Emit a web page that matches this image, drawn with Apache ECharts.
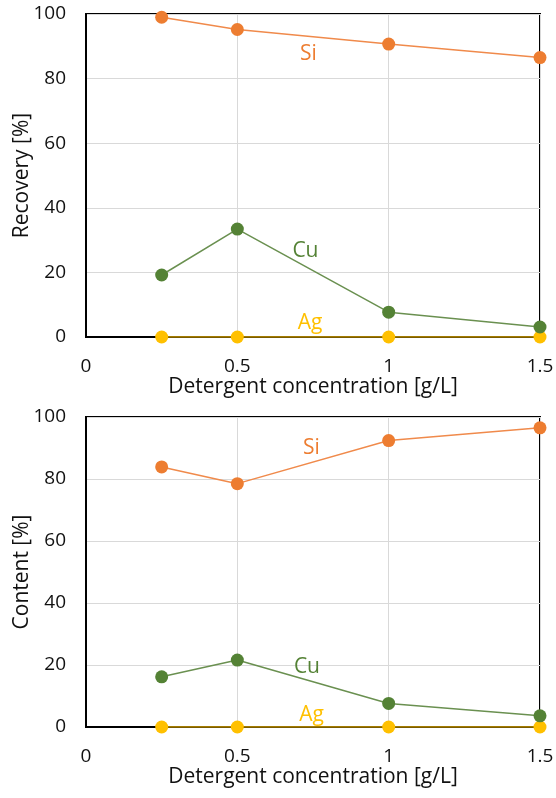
<!DOCTYPE html>
<html>
<head>
<meta charset="utf-8">
<script src="https://cdn.jsdelivr.net/npm/echarts@6/dist/echarts.min.js"></script>
<style>
  html, body { margin: 0; padding: 0; background: #fff; }
  #chart { width: 556px; height: 798px; }
</style>
</head>
<body>
<div id="chart"></div>
<script>
// detergent concentration [g/L]
const conc = [0.25, 0.5, 1, 1.5];
const xTicks = [0, 0.5, 1, 1.5];

// top panel: recovery [%]
const recSi = [99.0, 95.2, 90.7, 86.5];
const recCu = [19.2, 33.4, 7.7, 3.1];
const recAg = [0, 0, 0, 0];

// bottom panel: content [%]
const conSi = [83.9, 78.5, 92.4, 96.5];
const conCu = [16.2, 21.6, 7.6, 3.6];
const conAg = [0, 0, 0, 0];

const colors = { Si: "#ED7D31", Cu: "#548235", Ag: "#FFC000" };
const lineColors = { Si: "#F08A4B", Cu: "#6A9050", Ag: "#D9A400" };

// where the element names sit (data coords)
const recLabelPos = { Si: [0.735, 87.5], Cu: [0.725, 26.5], Ag: [0.74, 4.3] };
const conLabelPos = { Si: [0.745, 90], Cu: [0.73, 19.4], Ag: [0.745, 4.0] };

const FONT = "'Open Sans', 'Noto Sans', sans-serif";

function xAxis(gridIndex) {
    return {
        type: "value", gridIndex, min: 0, max: 1.5, interval: 0.5,
        name: "Detergent concentration [g/L]", nameLocation: "middle", nameGap: 36,
        nameTextStyle: { fontFamily: FONT, fontSize: 21, color: "#111" },
        axisLine: { show: true, onZero: false, lineStyle: { color: "#000", width: 2 } },
        axisTick: { show: false },
        axisLabel: { fontFamily: FONT, fontSize: 19, color: "#111", margin: 20,
            formatter: v => xTicks.includes(v) ? String(v) : "" },
        splitLine: { show: true, lineStyle: { color: "#d9d9d9", width: 1 } },
    };
}

function yAxis(gridIndex, name) {
    return {
        type: "value", gridIndex, min: 0, max: 100, interval: 20,
        name, nameLocation: "middle", nameGap: 53, nameMoveOverlap: false,
        nameTextStyle: { fontFamily: FONT, fontSize: 21, color: "#111" },
        axisLine: { show: true, lineStyle: { color: "#000", width: 2 } },
        axisTick: { show: false },
        axisLabel: { fontFamily: FONT, fontSize: 19, color: "#111", margin: 20 },
        splitLine: { show: true, lineStyle: { color: "#d9d9d9", width: 1 } },
    };
}

function makeSeries(idx, el, values, labelPos) {
    return {
        type: "line", xAxisIndex: idx, yAxisIndex: idx,
        data: conc.map((c, i) => [c, values[i]]),
        symbol: "circle", symbolSize: 13,
        itemStyle: { color: colors[el] },
        lineStyle: { color: lineColors[el], width: 1.5 },
        z: el === "Ag" ? 3 : 4,
        markPoint: {
            symbol: "circle", symbolSize: 0, silent: true,
            data: [{ coord: labelPos[el] }],
            label: { show: true, formatter: el, color: colors[el], fontFamily: FONT, fontSize: 21, position: "inside" },
        },
    };
}

const chart = echarts.init(document.getElementById("chart"));
chart.setOption({
    animation: false,
    grid: [
        { left: 86, top: 14, width: 454, height: 323, outerBoundsMode: "none", containLabel: false,
          show: true, borderColor: "#000", borderWidth: 2, backgroundColor: "transparent" },
        { left: 86, top: 417, width: 454, height: 310, outerBoundsMode: "none", containLabel: false,
          show: true, borderColor: "#000", borderWidth: 2, backgroundColor: "transparent" },
    ],
    xAxis: [xAxis(0), xAxis(1)],
    yAxis: [yAxis(0, "Recovery [%]"), yAxis(1, "Content [%]")],
    series: [
        makeSeries(0, "Si", recSi, recLabelPos),
        makeSeries(0, "Cu", recCu, recLabelPos),
        makeSeries(0, "Ag", recAg, recLabelPos),
        makeSeries(1, "Si", conSi, conLabelPos),
        makeSeries(1, "Cu", conCu, conLabelPos),
        makeSeries(1, "Ag", conAg, conLabelPos),
    ],
});
</script>
</body>
</html>
